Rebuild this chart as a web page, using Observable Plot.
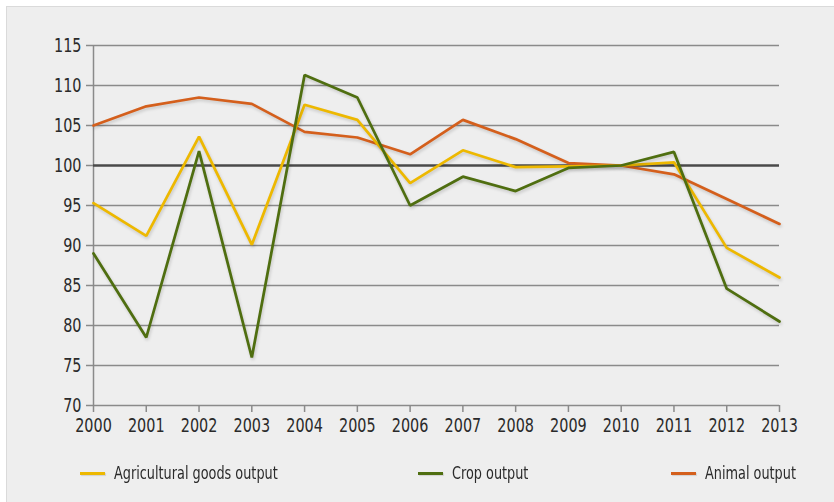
<!DOCTYPE html>
<html>
<head>
<meta charset="utf-8">
<script src="https://cdn.jsdelivr.net/npm/d3@7"></script>
<script src="https://cdn.jsdelivr.net/npm/@observablehq/plot@0.6"></script>
<style>
  html, body { margin: 0; padding: 0; background: #ffffff; }
  #frame {
    position: absolute; left: 6px; top: 6px; width: 827px; height: 495px;
    background: #eeeeee; border-left: 1px solid #dadada; border-top: 1px solid #dadada;
    font-family: "DejaVu Sans Condensed", "Liberation Sans Narrow", sans-serif;
  }
  #chart svg g[aria-label="line"] path { filter: drop-shadow(1px 2px 1.5px rgba(0,0,0,0.16)); }
  #legend { position: absolute; left: 0; top: 440px; width: 827px; height: 55px; }
  .item { position: absolute; top: 16px; display: flex; align-items: center; font-size: 17px; color: #2a2a2a; }
  .sw { width: 25px; height: 3px; margin-right: 9px; box-shadow: 1px 1px 1px rgba(0,0,0,0.12); }
  .lbl { display: inline-block; transform: scaleX(0.84); transform-origin: left center; }
</style>
</head>
<body>
<div id="frame">
  <div id="chart"></div>
  <div id="legend"></div>
</div>
<script>
const years = [2000, 2001, 2002, 2003, 2004, 2005, 2006, 2007, 2008, 2009, 2010, 2011, 2012, 2013];
const agricultural = [95.3, 91.2, 103.6, 90.1, 107.6, 105.7, 97.8, 101.9, 99.8, 99.9, 100.0, 100.4, 89.7, 86.0];
const crop = [89.0, 78.5, 101.8, 76.0, 111.3, 108.5, 95.0, 98.6, 96.8, 99.7, 100.0, 101.7, 84.6, 80.5];
const animal = [105.0, 107.4, 108.5, 107.7, 104.2, 103.5, 101.4, 105.7, 103.3, 100.3, 100.0, 98.9, 95.8, 92.7];
const seriesNames = ["Agricultural goods output", "Crop output", "Animal output"];
const seriesColors = ["#EDB800", "#4F6E10", "#D45F1C"];
const yTicks = [70, 75, 80, 85, 90, 95, 100, 105, 110, 115];

const seriesValues = [agricultural, crop, animal];
// draw order: animal, agricultural, crop
const drawOrder = [2, 0, 1];
const data = drawOrder.flatMap(i => years.map((yr, j) => ({year: yr, value: seriesValues[i][j], series: seriesNames[i]})));

const chart = Plot.plot({
  width: 827,
  height: 440,
  marginLeft: 86,
  marginRight: 55,
  marginTop: 38,
  marginBottom: 42,
  style: {background: "transparent", fontFamily: "'DejaVu Sans Condensed', 'Liberation Sans Narrow', sans-serif", fontSize: "20px", color: "#2a2a2a", overflow: "visible"},
  x: {domain: [2000, 2013]},
  y: {domain: [70, 115]},
  color: {domain: seriesNames, range: seriesColors},
  marks: [
    Plot.ruleY(yTicks.filter(d => d !== 100 && d !== 70), {stroke: "#8a8a8a", strokeWidth: 1.5}),
    Plot.ruleY([70], {stroke: "#8a8a8a", strokeWidth: 1.5}),
    Plot.ruleX([2000], {stroke: "#8a8a8a", strokeWidth: 1.5}),
    Plot.axisY({ticks: yTicks, tickSize: 7, tickPadding: 5, stroke: "#8a8a8a", strokeWidth: 1.5, fill: "#2a2a2a", label: null}),
    Plot.axisX({ticks: years, tickFormat: "d", tickSize: 7, tickPadding: 5, stroke: "#8a8a8a", strokeWidth: 1.5, fill: "#2a2a2a", label: null}),
    Plot.ruleY([100], {stroke: "#4a4a4a", strokeWidth: 2.5}),
    Plot.line(data, {x: "year", y: "value", z: "series", stroke: "series", strokeWidth: 2.75, strokeLinejoin: "miter"})
  ]
});
// narrow the tick labels horizontally to mimic the condensed typeface
chart.querySelectorAll("g[aria-label='y-axis tick label'] text, g[aria-label='x-axis tick label'] text").forEach(t => {
  const tr = t.getAttribute("transform");
  if (tr) {
    t.setAttribute("transform", tr + " scale(0.8,1)");
  } else {
    const x = +t.getAttribute("x") || 0, y = +t.getAttribute("y") || 0;
    t.removeAttribute("x"); t.removeAttribute("y");
    t.setAttribute("transform", `translate(${x},${y}) scale(0.8,1)`);
  }
});
document.getElementById("chart").appendChild(chart);

const legendLeft = [73, 411, 664];
const legend = document.getElementById("legend");
seriesNames.forEach((name, i) => {
  const item = document.createElement("div");
  item.className = "item";
  item.style.left = legendLeft[i] + "px";
  const sw = document.createElement("span");
  sw.className = "sw";
  sw.style.background = seriesColors[i];
  const label = document.createElement("span");
  label.className = "lbl";
  label.textContent = name;
  item.appendChild(sw);
  item.appendChild(label);
  legend.appendChild(item);
});
</script>
</body>
</html>
